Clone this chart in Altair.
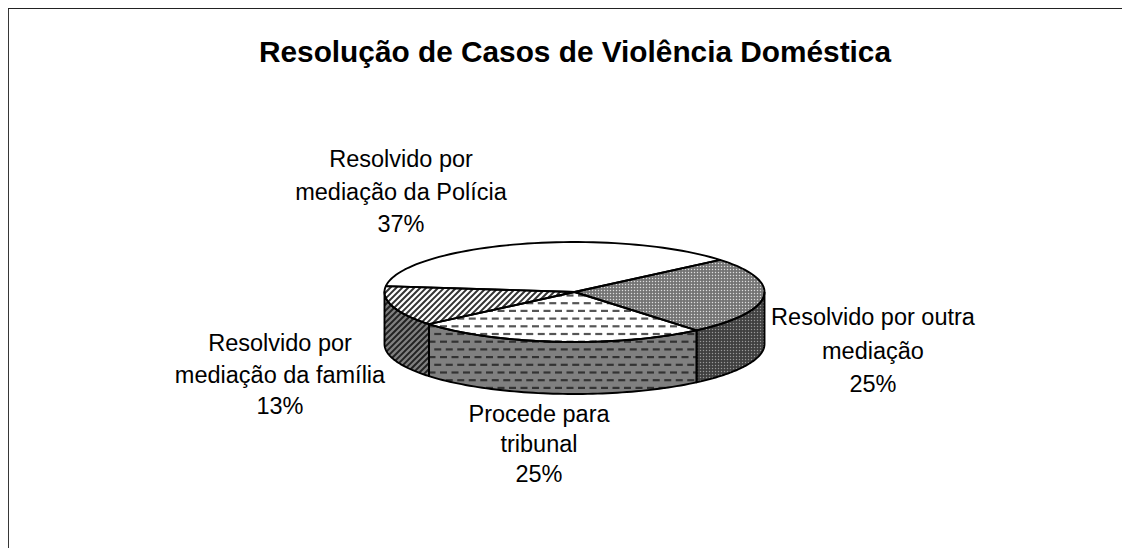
import math
import altair as alt
import pandas as pd

TITLE = "Resolução de Casos de Violência Doméstica"
NAMES = [["Resolvido por outra", "mediação"],
         ["Procede para", "tribunal"],
         ["Resolvido por", "mediação da família"],
         ["Resolvido por", "mediação da Polícia"]]
SHARES = [25, 25, 13, 37]
LABEL_X = [865, 531, 272, 393]
LABEL_Y = [310, 407, 336, 152]
LINE_GAPS = [33.5, 30.0, 31.5, 32.5]

W, H = 1114, 540
CX, CY, RX, RY, DEPTH = 566.5, 284, 190, 50, 52
START = -40.0


def pt(t, dy=0.0):
    r = math.radians(t)
    return (CX + RX * math.cos(r), CY + RY * math.sin(r) + dy)


def arc(a, b, dy=0.0, n=60):
    return [pt(a + (b - a) * i / n, dy) for i in range(n + 1)]


cuts = [START]
for s in SHARES:
    cuts.append(cuts[-1] + s * 3.6)

polys = {
    "top0": [(CX, CY)] + arc(cuts[0], cuts[1]),
    "top1": [(CX, CY)] + arc(cuts[1], cuts[2]),
    "top2": [(CX, CY)] + arc(cuts[2], cuts[3]),
    "top3": [(CX, CY)] + arc(cuts[3], cuts[4]),
    "side0": arc(0, cuts[1]) + arc(cuts[1], 0, DEPTH),
    "side1": arc(cuts[1], cuts[2]) + arc(cuts[2], cuts[1], DEPTH),
    "side2": arc(cuts[2], 180) + arc(180, cuts[2], DEPTH),
}
fills = {"top0": "#747474", "top1": "#ffffff", "top2": "#ffffff", "top3": "#ffffff",
         "side0": "#404040", "side1": "#808080", "side2": "#808080"}

rows = []
for k, p in polys.items():
    q = p + [p[0]]
    for i, (x, y) in enumerate(q):
        rows.append({"k": k, "i": i, "x": x, "y": y, "fill": fills[k]})
poly_df = pd.DataFrame(rows)


def inside(x, y, p):
    c = False
    for i in range(len(p)):
        x1, y1 = p[i]
        x2, y2 = p[(i + 1) % len(p)]
        if (y1 > y) != (y2 > y) and x < x1 + (y - y1) * (x2 - x1) / (y2 - y1):
            c = not c
    return c


def clip(a, b, p):
    ts = [0.0, 1.0]
    for i in range(len(p)):
        c, d = p[i], p[(i + 1) % len(p)]
        den = (b[0] - a[0]) * (d[1] - c[1]) - (b[1] - a[1]) * (d[0] - c[0])
        if abs(den) < 1e-9:
            continue
        t = ((c[0] - a[0]) * (d[1] - c[1]) - (c[1] - a[1]) * (d[0] - c[0])) / den
        u = ((c[0] - a[0]) * (b[1] - a[1]) - (c[1] - a[1]) * (b[0] - a[0])) / den
        if 0 <= t <= 1 and 0 <= u <= 1:
            ts.append(t)
    ts.sort()
    out = []
    for t0, t1 in zip(ts, ts[1:]):
        m = (t0 + t1) / 2
        if t1 - t0 > 1e-6 and inside(a[0] + m * (b[0] - a[0]), a[1] + m * (b[1] - a[1]), p):
            out.append((a[0] + t0 * (b[0] - a[0]), a[1] + t0 * (b[1] - a[1]),
                        a[0] + t1 * (b[0] - a[0]), a[1] + t1 * (b[1] - a[1])))
    return out


segs = []


def hatch(k, color, width):
    off = 100.0
    while off < 900:
        for s in clip((off, 400.0), (off + 200.0, 200.0), polys[k]):
            segs.append(dict(zip(("x", "y", "x2", "y2"), s), c=color, w=width))
        off += 6.0


def dashes(k, color, width):
    for row in range(45):
        y = 210.5 + row * 7.7
        x = 340.0 + (row % 2) * 5.75
        while x < 800:
            for s in clip((x, y), (x + 7.0, y), polys[k]):
                segs.append(dict(zip(("x", "y", "x2", "y2"), s), c=color, w=width))
            x += 11.5


hatch("top2", "#333333", 2.0)
hatch("side2", "#222222", 2.0)
dashes("top1", "#555555", 2.2)
dashes("side1", "#333333", 2.2)
seg_df = pd.DataFrame(segs)

dots = []
for k, col in (("top0", "#dddddd"), ("side0", "#999999")):
    for iy in range(60):
        for ix in range(120):
            x, y = 500.5 + ix * 3.0, 225.5 + iy * 3.0
            if inside(x, y, polys[k]):
                dots.append({"x": x, "y": y, "c": col})
dot_df = pd.DataFrame(dots)

label_rows = []
for names, s, lx, ly, gap in zip(NAMES, SHARES, LABEL_X, LABEL_Y, LINE_GAPS):
    for j, line in enumerate(names + [f"{s}%"]):
        label_rows.append({"x": lx, "y": ly + j * gap, "t": line})
label_df = pd.DataFrame(label_rows)
title_df = pd.DataFrame({"x": [567], "y": [45], "t": [TITLE]})

X = alt.X("x:Q", scale=alt.Scale(domain=[0, W], nice=False, zero=False), axis=None)
Y = alt.Y("y:Q", scale=alt.Scale(domain=[H, 0], nice=False, zero=False), axis=None)

fill_layer = alt.Chart(poly_df).mark_line(strokeWidth=0).encode(
    x=X, y=Y, order="i:Q", detail="k:N", fill=alt.Fill("fill:N", scale=None))
seg_layer = alt.Chart(seg_df).mark_rule().encode(
    x=X, y=Y, x2="x2:Q", y2="y2:Q",
    color=alt.Color("c:N", scale=None), strokeWidth=alt.StrokeWidth("w:Q", scale=None))
dot_layer = alt.Chart(dot_df).mark_square(size=1.6, opacity=1).encode(
    x=X, y=Y, color=alt.Color("c:N", scale=None))
line_layer = alt.Chart(poly_df).mark_line(color="black", strokeWidth=1.9, strokeJoin="round").encode(
    x=X, y=Y, order="i:Q", detail="k:N")
frame_df = pd.DataFrame({"x": [0, 0, W], "y": [H, 0, 0], "i": [0, 1, 2]})
frame_layer = alt.Chart(frame_df).mark_line(color="#222222", strokeWidth=1.8).encode(
    x=X, y=Y, order="i:Q")
label_layer = alt.Chart(label_df).mark_text(
    font="Liberation Sans", fontSize=23.5, color="black", baseline="middle", align="center"
).encode(x=X, y=Y, text="t:N")
title_layer = alt.Chart(title_df).mark_text(
    font="Liberation Sans", fontSize=29.8, fontWeight="bold", color="black", baseline="middle", align="center"
).encode(x=X, y=Y, text="t:N")

chart = alt.layer(
    frame_layer, fill_layer, seg_layer, dot_layer, line_layer, label_layer, title_layer
).properties(
    width=W, height=H, padding=0, background="white", autosize=alt.AutoSizeParams(type="none")
).configure_view(stroke=None)

chart.save("out.html", embed_options={"renderer": "svg", "actions": False})
